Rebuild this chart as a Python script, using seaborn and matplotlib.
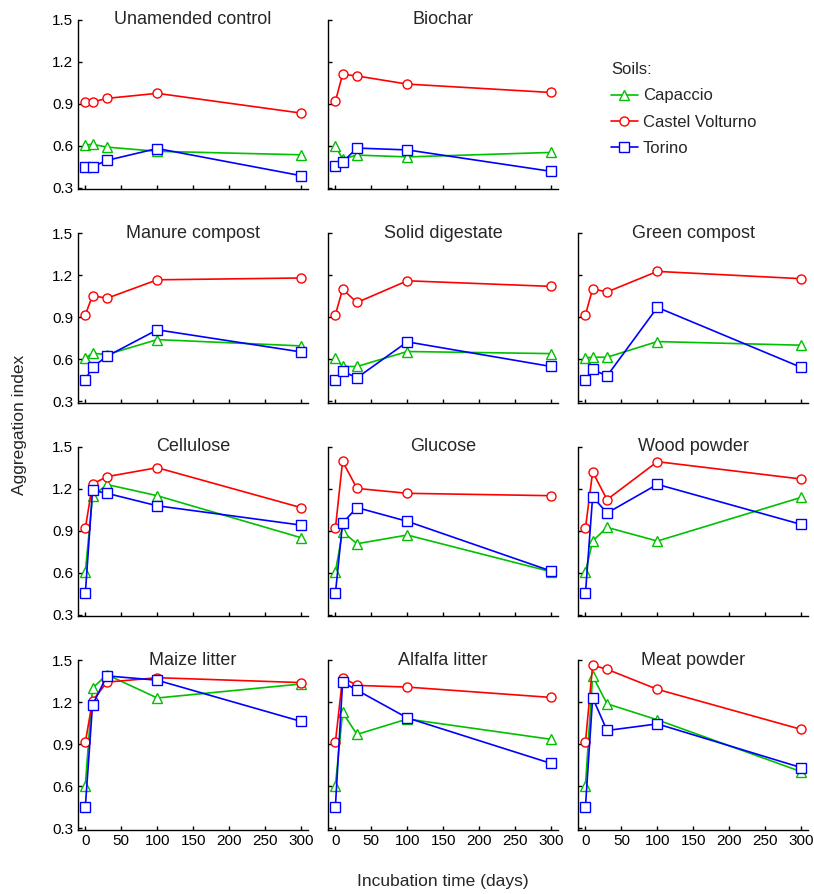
import numpy as np
import pandas as pd
import seaborn as sns
import matplotlib.pyplot as plt

# Aggregation index over incubation time, per amendment and soil
days = [0, 10, 30, 100, 300]
soils = ["Capaccio", "Castel Volturno", "Torino"]
amendments = ["Unamended control", "Biochar", None,
              "Manure compost", "Solid digestate", "Green compost",
              "Cellulose", "Glucose", "Wood powder",
              "Maize litter", "Alfalfa litter", "Meat powder"]

capaccio = {
    "Unamended control": [0.605, 0.61, 0.59, 0.56, 0.535],
    "Biochar": [0.60, 0.505, 0.533, 0.52, 0.552],
    "Manure compost": [0.607, 0.643, 0.633, 0.74, 0.695],
    "Solid digestate": [0.61, 0.548, 0.548, 0.655, 0.64],
    "Green compost": [0.61, 0.614, 0.614, 0.726, 0.70],
    "Cellulose": [0.605, 1.148, 1.23, 1.15, 0.85],
    "Glucose": [0.607, 0.893, 0.807, 0.869, 0.607],
    "Wood powder": [0.605, 0.826, 0.924, 0.826, 1.138],
    "Maize litter": [0.605, 1.30, 1.397, 1.23, 1.33],
    "Alfalfa litter": [0.605, 1.127, 0.97, 1.08, 0.935],
    "Meat powder": [0.605, 1.387, 1.189, 1.074, 0.704],
}
castel_volturno = {
    "Unamended control": [0.912, 0.912, 0.938, 0.974, 0.833],
    "Biochar": [0.917, 1.11, 1.098, 1.04, 0.98],
    "Manure compost": [0.917, 1.054, 1.035, 1.167, 1.18],
    "Solid digestate": [0.917, 1.10, 1.005, 1.16, 1.12],
    "Green compost": [0.917, 1.103, 1.08, 1.227, 1.175],
    "Cellulose": [0.917, 1.233, 1.286, 1.35, 1.065],
    "Glucose": [0.917, 1.395, 1.202, 1.167, 1.15],
    "Wood powder": [0.917, 1.32, 1.122, 1.393, 1.269],
    "Maize litter": [0.914, 1.21, 1.343, 1.375, 1.34],
    "Alfalfa litter": [0.914, 1.375, 1.32, 1.308, 1.234],
    "Meat powder": [0.914, 1.464, 1.435, 1.292, 1.006],
}
torino = {
    "Unamended control": [0.45, 0.45, 0.495, 0.58, 0.386],
    "Biochar": [0.455, 0.483, 0.583, 0.57, 0.417],
    "Manure compost": [0.455, 0.543, 0.621, 0.81, 0.652],
    "Solid digestate": [0.455, 0.514, 0.467, 0.724, 0.548],
    "Green compost": [0.455, 0.527, 0.48, 0.97, 0.542],
    "Cellulose": [0.452, 1.188, 1.167, 1.078, 0.94],
    "Glucose": [0.452, 0.955, 1.065, 0.967, 0.612],
    "Wood powder": [0.452, 1.143, 1.026, 1.231, 0.945],
    "Maize litter": [0.453, 1.18, 1.388, 1.357, 1.063],
    "Alfalfa litter": [0.453, 1.344, 1.286, 1.088, 0.763],
    "Meat powder": [0.453, 1.232, 0.998, 1.045, 0.733],
}

x_ticks = [0, 50, 100, 150, 200, 250, 300]
y_ticks = [0.3, 0.6, 0.9, 1.2, 1.5]

# build long-form table
rows = []
for soil, table in zip(soils, [capaccio, castel_volturno, torino]):
    for amend, vals in table.items():
        for d, v in zip(days, vals):
            rows.append({"amendment": amend, "soil": soil, "day": d, "ai": v})
df = pd.DataFrame(rows)

colors = {"Capaccio": "#00c000", "Castel Volturno": "#ff0000", "Torino": "#0000ff"}
markers = {"Capaccio": "^", "Castel Volturno": "o", "Torino": "s"}

sns.set_style("ticks")
plt.rcParams["font.family"] = ["Liberation Sans", "DejaVu Sans"]

fig, axes = plt.subplots(4, 3, figsize=(8.14, 8.94), dpi=100, sharex=True, sharey=True)
fig.subplots_adjust(left=0.096, right=0.993, top=0.978, bottom=0.072,
                    wspace=0.087, hspace=0.26)

for ax, amend in zip(axes.flat, amendments):
    if amend is None:
        ax.axis("off")
        continue
    sub = df[df["amendment"] == amend]
    for soil in soils:
        s = sub[sub["soil"] == soil]
        sns.lineplot(data=s, x="day", y="ai", ax=ax, color=colors[soil],
                     marker=markers[soil], markersize=6.5, linewidth=1.2,
                     mfc="white", mec=colors[soil], mew=1.0, label=soil, legend=False)
    ax.text(0.5, 1.0, amend, transform=ax.transAxes, ha="center", va="center",
            fontsize=13)
    ax.set_xlim(-10, 310)
    ax.set_ylim(0.29, 1.5)
    ax.set_xticks(x_ticks)
    ax.set_yticks(y_ticks)
    ax.set_xlabel("")
    ax.set_ylabel("")
    sns.despine(ax=ax)
    ax.tick_params(direction="in", length=3, width=1, labelsize=11, colors="black")
    for sp in ax.spines.values():
        sp.set_color("black")
        sp.set_linewidth(1.0)

axes[2, 0].tick_params(labelleft=True)

# legend in the empty top-right slot
handles, labels = axes[0, 0].get_legend_handles_labels()
leg = axes[0, 2].legend(handles, labels, title="Soils:", loc="upper left",
                        bbox_to_anchor=(596 / 814, 1 - 47 / 894),
                        bbox_transform=fig.transFigure, frameon=False,
                        fontsize=12, title_fontsize=12, handlelength=1.6,
                        handletextpad=0.3, labelspacing=0.68, alignment="left")

fig.text(0.024, 0.525, "Aggregation index", rotation=90, ha="center", va="center",
         fontsize=12.5)
fig.text(0.544, 0.014, "Incubation time (days)", ha="center", va="center",
         fontsize=12.5)

fig.savefig("out.png", dpi=100)
